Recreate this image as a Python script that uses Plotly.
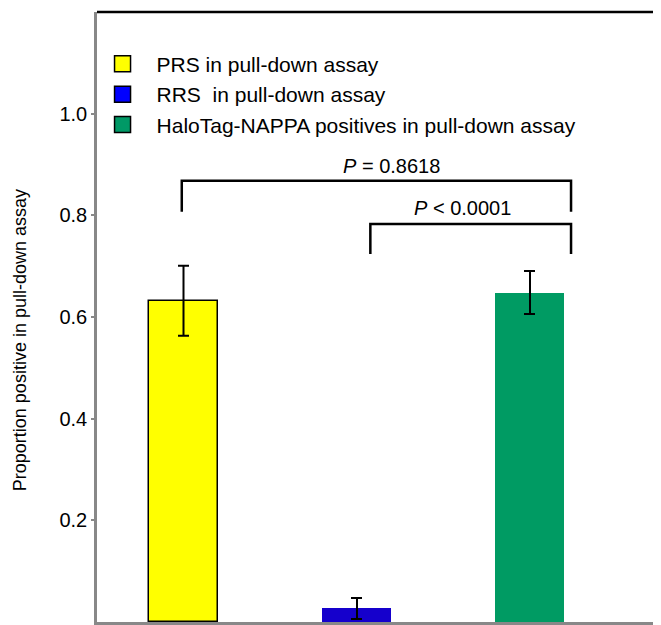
import plotly.graph_objects as go

# ---- data ----
categories = ["PRS", "RRS", "HaloTag-NAPPA positives"]
legend_labels = ["PRS in pull-down assay", "RRS  in pull-down assay",
                 "HaloTag-NAPPA positives in pull-down assay"]
values = [0.632, 0.028, 0.648]
err_plus = [0.069, 0.019, 0.043]
err_minus = [0.069, 0.022, 0.042]
bar_colors = ["#FFFF00", "#1500CC", "#009B63"]
legend_colors = ["#FFFF00", "#0000FF", "#009966"]
y_ticks = [0.2, 0.4, 0.6, 0.8, 1.0]
y_title = "Proportion positive in pull-down assay"

# significance brackets: (x_left, x_right, y_top, y_bottom, label, label_x, label_y)
brackets = [
    (-0.01, 2.24, 0.868, 0.807, "<i>P</i> = 0.8618", 1.20, 0.898),
    (1.08, 2.24, 0.783, 0.724, "<i>P</i> &lt; 0.0001", 1.61, 0.815),
]

FONT = "Liberation Sans, Arial, sans-serif"
xpos = list(range(len(categories)))

fig = go.Figure()
for i, cat in enumerate(categories):
    fig.add_trace(go.Bar(
        x=[xpos[i]], y=[values[i]], name=cat, width=0.4,
        marker=dict(color=bar_colors[i],
                    line=dict(color="black" if i == 0 else bar_colors[i],
                              width=1.5 if i == 0 else 0)),
        error_y=dict(type="data", symmetric=False, array=[err_plus[i]],
                     arrayminus=[err_minus[i]], color="black",
                     thickness=2, width=5.5),
        showlegend=False,
    ))

for i, lab in enumerate(legend_labels):
    fig.add_trace(go.Scatter(
        x=[None], y=[None], mode="markers", name=lab,
        marker=dict(symbol="square", size=16, color=legend_colors[i],
                    line=dict(color="black", width=1.5)),
    ))

for (x0, x1, ytop, ybot, label, lx, ly) in brackets:
    fig.add_shape(type="path",
                  path=f"M {x0},{ybot} L {x0},{ytop} L {x1},{ytop} L {x1},{ybot}",
                  xref="x", yref="y", line=dict(color="black", width=2.5))
    fig.add_annotation(x=lx, y=ly, xref="x", yref="y", text=label,
                       showarrow=False, font=dict(size=20, color="black", family=FONT))

# y-axis title (placed as rotated text to match the original offset)
fig.add_annotation(x=-0.1365, y=0.462, xref="paper", yref="paper", text=y_title,
                   textangle=-90, showarrow=False, xanchor="center", yanchor="middle",
                   font=dict(size=18, color="black", family=FONT))

# top border
fig.add_shape(type="line", xref="paper", yref="paper", x0=0, x1=1, y0=1, y1=1,
              line=dict(color="black", width=2.5))

fig.update_layout(
    width=653, height=617,
    margin=dict(l=89, r=0, t=4, b=3),
    plot_bgcolor="white", paper_bgcolor="white",
    font=dict(family=FONT, color="black", size=20),
    bargap=0,
    legend=dict(x=-0.015, y=0.948, xanchor="left", yanchor="top",
                font=dict(size=21, family=FONT), bgcolor="rgba(0,0,0,0)",
                tracegroupgap=0, itemclick=False, itemwidth=58),
    xaxis=dict(range=[-0.5, 2.76], showgrid=False, zeroline=False,
               showline=True, linecolor="#888888", linewidth=2.5,
               tickvals=[0.5, 1.5], showticklabels=False,
               ticks="outside", ticklen=4, tickcolor="#888888", tickwidth=1.5),
    yaxis=dict(range=[0, 1.2], showgrid=False, zeroline=False,
               showline=True, linecolor="#888888", linewidth=2.5,
               tickvals=y_ticks, tickformat=".1f",
               ticks="outside", ticklen=3, tickcolor="#888888", tickwidth=1.5,
               tickfont=dict(size=20, family=FONT)),
)

fig.write_html("out.html")
